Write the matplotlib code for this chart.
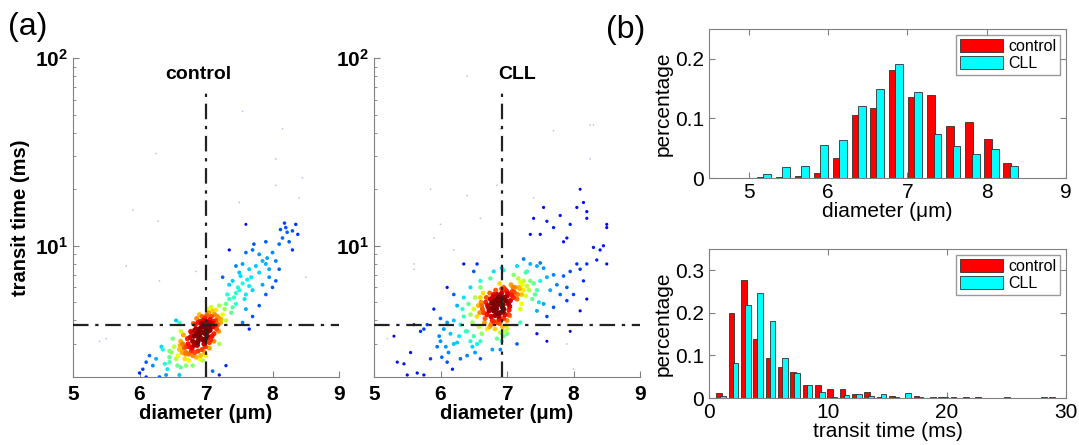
import numpy as np
import matplotlib
matplotlib.use("Agg")
import matplotlib.pyplot as plt
from matplotlib.ticker import FixedLocator, FixedFormatter, LogLocator, NullFormatter

plt.rcParams['font.family'] = ['Liberation Sans', 'DejaVu Sans']
plt.rcParams['mathtext.fontset'] = 'custom'
plt.rcParams['mathtext.rm'] = 'Liberation Sans'
plt.rcParams['mathtext.bf'] = 'Liberation Sans:bold'

# ---------------- data ----------------
control_x = [6.95,7.0,7.05,6.9,7.1,6.98,7.02,6.88,7.08,6.93,7.12,6.97,7.04,6.85,7.15,6.9,7.0,6.95,7.06,6.82,
             7.18,6.87,7.1,6.99,7.03,6.92,7.13,6.8,6.96,7.07,6.84,7.2,6.78,7.01,6.94,7.09,6.9,7.16,6.86,7.05,
             6.97,7.03,6.91,7.11,6.89,7.06,6.99,7.14,6.83,6.94,7.02,6.87,7.09,6.96,7.17,6.81,7.04,6.93,7.0,6.86,
             6.76,6.73,6.79,6.7,6.77,6.64,6.69,6.83,6.92,6.98,7.12,7.19,7.23,7.15,7.08,6.74,6.61,6.67,6.88,7.05,
             6.75,6.7,6.65,6.8,6.72,6.6,6.68,6.78,6.62,6.85,6.74,6.58,6.9,6.95,7.0,6.66,7.25,7.22,7.28,7.2,6.82,6.88,
             6.52,6.55,6.48,6.57,6.5,6.62,6.7,7.3,7.35,7.4,7.32,7.42,7.38,6.62,7.3,7.45,6.45,6.8,
             6.42,6.4,6.45,6.38,6.6,7.5,7.55,7.6,7.48,7.62,7.58,7.52,7.65,7.7,7.45,7.9,7.95,7.85,7.92,7.8,7.68,
             6.1,6.05,6.15,6.2,6.0,6.25,6.35,6.3,6.1,6.45,7.2,7.3,7.1,6.33,
             7.75,7.8,7.7,7.9,8.0,8.05,7.95,8.1,8.15,8.2,8.18,8.22,8.3,8.35,8.38,8.25,8.1,8.05,7.85,7.65,7.55,7.5,
             7.4,7.6,7.7,7.8,7.35,7.25,7.45,7.6,7.72,8.12,7.9,8.0,8.3,7.55,7.65,6.6,6.55,
             6.25,6.28,5.9,5.8,5.4,5.5,6.3,6.85,7.5,7.55,8.15,8.05,8.05,7.6,8.45,8.4,8.5,7.35,7.2]
control_t = [3.8,3.6,3.9,3.5,3.7,4.1,3.3,3.9,4.2,3.2,3.4,3.0,4.4,3.6,4.0,4.3,3.95,3.45,3.55,3.3,
             3.8,3.05,4.5,2.9,3.75,3.65,4.3,3.1,4.0,3.15,3.8,4.1,3.45,4.25,2.8,3.85,3.35,3.6,4.1,3.05,
             3.7,3.5,3.95,3.95,3.25,4.05,3.4,3.75,3.55,4.2,4.6,2.95,3.3,3.15,4.2,3.85,3.65,3.85,3.2,3.4,
             3.25,3.0,2.85,2.9,3.5,2.7,2.65,2.7,2.6,2.7,3.1,3.5,4.05,4.55,4.7,2.65,2.95,2.85,3.1,2.85,
             2.9,2.7,3.0,2.6,3.2,2.8,2.5,2.75,3.1,2.55,2.45,2.6,2.5,2.45,2.6,3.35,4.3,3.9,4.6,4.8,2.95,2.75,
             2.9,2.5,2.7,2.3,3.2,2.25,2.3,4.9,5.2,4.7,5.5,5.3,4.4,3.5,4.0,4.9,2.4,2.3,
             2.2,2.05,2.55,2.35,2.05,5.8,6.3,5.5,6.0,6.6,5.2,6.9,6.1,5.8,5.6,8.0,7.5,8.3,8.6,7.2,6.8,
             2.4,2.2,2.6,2.3,2.1,2.5,2.8,2.0,2.0,2.75,2.05,2.3,2.15,2.9,
             7.8,9.0,9.5,10.5,9.2,8.3,6.8,10.2,11.0,12.5,13.2,11.8,12.0,13.0,11.5,10.5,7.5,6.5,6.2,7.5,8.0,7.2,
             6.5,4.6,4.2,4.8,6.2,6.8,7.8,9.2,10.2,12.2,5.5,6.0,9.5,3.9,3.6,3.9,4.0,
             31,13.5,15.5,7.8,3.1,3.2,6.5,7.3,17,52,42,29,21,13,23,18,6.8,9.5,3.0]

cll_x = [6.85,6.9,6.8,6.95,6.75,7.0,6.88,6.92,6.78,7.02,6.83,6.97,6.72,7.05,6.86,6.9,6.8,6.95,7.08,6.7,
         6.93,6.87,7.0,6.77,6.99,6.84,7.03,6.91,6.74,7.1,6.82,6.96,7.06,6.68,6.89,7.12,6.76,6.94,7.04,6.81,
         6.87,6.93,6.81,6.98,6.79,7.01,6.86,6.9,6.76,7.04,6.84,6.95,6.73,7.07,6.88,6.96,6.82,6.92,7.09,6.71,
         6.89,6.85,7.02,6.78,6.97,6.8,6.99,6.94,6.69,7.11,6.63,6.67,6.61,6.9,7.0,7.16,7.19,7.23,6.59,6.74,
         6.65,6.62,6.6,6.66,6.7,6.95,6.92,7.0,7.18,7.22,7.2,7.25,7.15,6.64,6.85,7.17,
         6.55,6.57,6.52,6.58,7.25,7.28,7.22,7.3,6.62,6.9,6.5,7.2,
         6.45,6.48,6.42,6.5,6.45,6.55,6.4,6.6,6.52,7.33,7.35,7.38,7.28,6.78,6.48,
         6.35,6.3,6.33,6.38,6.28,6.25,6.6,7.42,7.45,7.4,6.92,6.95,7.2,6.4,7.48,
         6.2,6.1,6.05,6.15,6.0,6.08,6.12,6.02,5.95,5.98,6.2,6.1,6.18,6.3,6.0,6.25,6.35,6.45,6.6,6.75,
         7.3,7.45,7.5,7.35,7.55,7.6,7.7,7.65,7.75,7.8,7.9,7.85,7.95,8.1,8.15,7.9,8.0,7.6,7.7,7.55,
         8.05,7.5,7.45,8.2,7.25,7.15,7.1,6.55,6.6,7.95,8.1,8.2,7.45,
         5.3,5.35,5.45,5.55,5.5,5.4,5.65,5.75,5.7,5.75,5.85,5.6,5.2,5.9,5.8,6.1,6.2,6.35,6.5,6.8,
         8.3,8.35,8.5,8.45,8.2,8.05,8.15,8.2,7.95,7.7,7.8,7.6,7.4,7.35,7.5,7.85,7.9,8.5,7.9,7.6,8.0,7.15,
         5.85,5.6,5.6,5.9,6.0,6.4,6.4,6.6,6.9,7.4,7.7,8.25,8.3,8.25,8.1,8.5,6.85,6.2,8.4,7.55]
cll_t = [4.8,5.0,4.5,4.6,5.2,5.4,4.2,5.6,4.0,4.9,5.8,4.3,4.7,5.1,3.9,4.4,5.5,6.0,5.7,4.3,
         3.7,5.3,4.0,4.95,5.75,4.6,4.55,5.2,5.6,5.3,3.6,3.5,6.2,5.0,6.3,6.0,3.8,4.85,4.25,5.05,
         4.9,4.7,4.8,5.1,5.35,5.6,4.35,5.45,4.2,4.75,5.15,4.1,4.5,5.45,4.05,5.3,4.25,5.9,6.0,4.8,
         3.85,5.5,4.3,4.65,5.85,3.95,3.75,4.45,5.3,5.65,4.6,4.1,5.0,3.45,3.6,5.5,5.9,6.2,4.4,3.7,
         4.4,4.8,5.3,3.9,3.6,3.3,3.1,3.4,6.0,5.5,6.4,5.8,5.2,5.6,3.2,6.7,
         4.2,4.8,5.3,3.7,6.5,5.4,4.9,6.1,3.4,2.8,4.6,4.6,
         4.3,3.9,4.9,3.3,3.1,3.0,3.5,3.1,2.7,5.8,6.5,5.2,7.2,2.8,2.9,
         4.2,3.8,4.6,3.5,3.3,3.05,2.5,5.5,4.5,6.3,7.6,7.4,3.9,2.6,5.0,
         4.0,3.9,3.6,3.4,3.1,2.9,2.7,2.55,2.9,3.3,3.0,2.4,2.2,2.5,4.1,4.8,5.3,6.0,6.5,6.7,
         7.3,7.8,8.1,8.0,7.6,6.8,7.0,5.8,6.2,5.5,6.0,6.9,7.3,7.5,6.5,5.1,5.5,4.2,4.7,4.9,
         8.0,6.5,5.8,8.0,8.5,7.8,7.0,8.0,6.0,3.5,4.5,5.2,3.4,
         3.3,2.4,2.35,2.7,2.05,1.95,2.1,2.05,3.5,3.6,2.5,3.8,3.2,4.6,3.8,6.0,5.5,8.0,7.3,7.3,
         9.8,8.4,8.0,10.0,14.0,16.0,17.0,15.2,13.0,12.5,14.5,13.5,14.0,11.5,11.5,10.5,11.0,12.5,3.0,3.1,2.2,3.0,
         20,7.5,8.0,11,13,80,18.5,14,42,18,41,44,44,29,20,13,21,9.5,9.5,16]

diam_centers = [5.19,5.43,5.67,5.91,6.15,6.39,6.62,6.86,7.10,7.34,7.58,7.82,8.06,8.30]
diam_control = [0.002,0.002,0.004,0.009,0.034,0.105,0.117,0.181,0.136,0.139,0.088,0.094,0.066,0.026]
diam_cll     = [0.006,0.019,0.020,0.055,0.063,0.120,0.150,0.192,0.144,0.074,0.054,0.040,0.048,0.020]

time_centers = [1.03 + 1.036 * i for i in range(28)]
time_control = [0.012,0.200,0.277,0.139,0.093,0.073,0.060,0.031,0.031,0.020,0.022,0.009,0.015,0.003,
                0.004,0.000,0.004,0.001,0.002,0.002,0.002,0.002,0.000,0.000,0.000,0.000,0.000,0.002]
time_cll     = [0.005,0.082,0.218,0.247,0.182,0.093,0.059,0.031,0.014,0.002,0.007,0.009,0.004,0.010,
                0.003,0.011,0.003,0.002,0.002,0.000,0.000,0.000,0.000,0.002,0.000,0.000,0.002,0.000]

gate_t = 3.8
gate_d = {'control': 7.0, 'CLL': 6.93}
title_x = {'control': 6.88, 'CLL': 7.15}

# ---------------- figure ----------------
fig = plt.figure(figsize=(10.79, 4.45), dpi=100)
W, H = 1079, 445

def ax_px(l, t, r, b):
    return fig.add_axes([l / W, 1 - b / H, (r - l) / W, (b - t) / H])

jet = plt.get_cmap('jet')
dash = (0, (7, 3, 1.5, 3))

def scatter_panel(ax, xs, ts, title):
    gx = gate_d[title]
    x = np.asarray(xs, float)
    lt = np.log10(np.asarray(ts, float))
    dx = (x[:, None] - x[None, :]) / 0.21
    dy = (lt[:, None] - lt[None, :]) / 0.08
    dens = np.exp(-0.5 * (dx ** 2 + dy ** 2)).sum(1)
    d = (dens - 1) / (dens.max() - 1)
    order = np.argsort(d)
    x, lt, d = x[order], lt[order], d[order]
    cols = jet(np.clip(0.07 + 0.98 * d ** 1.0, 0, 1))
    sizes = 3 + 12 * d ** 0.6
    low = d < 0.03
    cols[low] = (0.74, 0.74, 0.88, 1)
    sizes[low] = 1.5
    ax.scatter(x, 10 ** lt, s=sizes, c=cols, edgecolors='none', zorder=3)
    ax.set_yscale('log')
    ax.set_xlim(5, 9)
    ax.set_ylim(2, 100)
    ax.plot([gx, gx], [2, 65], color='#222222', lw=1.6, linestyle=dash, zorder=4)
    ax.plot([5, 9], [gate_t, gate_t], color='#222222', lw=1.6, linestyle=dash, zorder=4)
    ax.text(title_x[title], 82, title, ha='center', va='center', fontsize=14, fontweight='bold')
    for s in ['top', 'right']:
        ax.spines[s].set_visible(False)
    for s in ['left', 'bottom']:
        ax.spines[s].set_color('#808080')
    ax.set_xticks([5, 6, 7, 8, 9])
    ax.set_xticklabels(['5', '6', '7', '8', '9'], fontsize=15, fontweight='bold')
    ax.yaxis.set_major_locator(FixedLocator([10, 100]))
    ax.yaxis.set_major_formatter(FixedFormatter([r'$\mathbf{10^{1}}$', r'$\mathbf{10^{2}}$']))
    ax.yaxis.set_minor_locator(LogLocator(base=10, subs=np.arange(2, 10)))
    ax.yaxis.set_minor_formatter(NullFormatter())
    ax.tick_params(axis='both', which='both', direction='in', color='#808080', labelsize=15)
    ax.tick_params(axis='both', which='major', length=4)
    ax.tick_params(axis='y', which='minor', length=2)
    ax.tick_params(axis='x', pad=6)
    ax.set_xlabel('diameter (\u03bcm)', fontsize=14.5, fontweight='bold', labelpad=0)

ax1 = ax_px(73, 58, 339, 377)
scatter_panel(ax1, control_x, control_t, 'control')
ax1.set_ylabel('transit time (ms)', fontsize=14.5, fontweight='bold', labelpad=4)

ax2 = ax_px(374, 58, 640, 377)
scatter_panel(ax2, cll_x, cll_t, 'CLL')

def hist_panel(ax, centers, a, b, off, w, xlim, ylim, xticks, yticks, ylabels, xlabel):
    c = np.asarray(centers)
    ax.bar(c - off, a, width=w, color='#ff0000', edgecolor='#303030', linewidth=0.6, label='control', zorder=2)
    ax.bar(c + off, b, width=w, color='#00ffff', edgecolor='#303030', linewidth=0.6, label='CLL', zorder=3)
    ax.set_xlim(*xlim)
    ax.set_ylim(*ylim)
    ax.set_xticks(xticks)
    ax.set_yticks(yticks)
    ax.set_yticklabels(ylabels)
    for s in ax.spines.values():
        s.set_color('#808080')
    ax.tick_params(direction='in', top=True, right=True, color='#808080', labelsize=15, length=4)
    ax.set_ylabel('percentage', fontsize=15, labelpad=2)
    ax.set_xlabel(xlabel, fontsize=15, labelpad=0)
    leg = ax.legend(loc='upper right', fontsize=11.5, frameon=True, fancybox=False,
                    handlelength=2.7, handleheight=0.9, borderpad=0.25, labelspacing=0.12,
                    handletextpad=0.3, borderaxespad=0.35)
    leg.get_frame().set_edgecolor('#808080')
    leg.get_frame().set_linewidth(1.0)

ax3 = ax_px(709, 29, 1066, 178)
hist_panel(ax3, diam_centers, diam_control, diam_cll, 0.04, 0.1, (4.5, 9), (0, 0.25),
           [5, 6, 7, 8, 9], [0, 0.1, 0.2], ['0', '0.1', '0.2'], 'diameter (\u03bcm)')

ax4 = ax_px(709, 249, 1066, 398)
hist_panel(ax4, time_centers, time_control, time_cll, 0.17, 0.48, (0, 30), (0, 0.35),
           [0, 10, 20, 30], [0, 0.1, 0.2, 0.3], ['0', '0.1', '0.2', '0.3'], 'transit time (ms)')

fig.text(8 / W, 1 - 27 / H, '(a)', fontsize=23, va='center', ha='left')
fig.text(606 / W, 1 - 30 / H, '(b)', fontsize=23, va='center', ha='left')

fig.savefig('out.png', dpi=100)
